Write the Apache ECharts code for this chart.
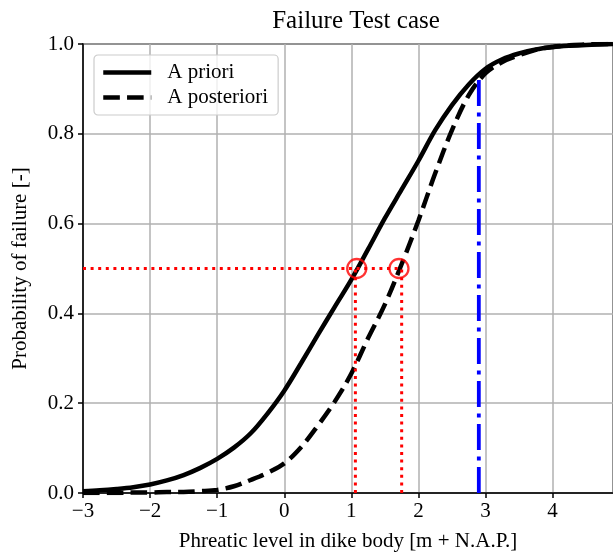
<!DOCTYPE html>
<html>
<head>
<meta charset="utf-8">
<script src="https://cdn.jsdelivr.net/npm/echarts@6/dist/echarts.min.js"></script>
<style>
html,body{margin:0;padding:0;background:#fff;}
#chart{width:613px;height:558px;}
</style>
</head>
<body>
<div id="chart"></div>
<script>
// ---- data ----
var xLevels = [-3, -2.75, -2.5, -2.25, -2, -1.75, -1.5, -1.25, -1, -0.75, -0.5, -0.25, 0, 0.25, 0.5, 0.75, 1, 1.25, 1.5, 1.75, 2, 2.25, 2.5, 2.75, 3, 3.25, 3.5, 3.75, 4, 4.25, 4.5, 4.9];
var aPriori = [0.004, 0.006, 0.009, 0.013, 0.019, 0.028, 0.040, 0.056, 0.076, 0.101, 0.133, 0.177, 0.228, 0.289, 0.352, 0.414, 0.475, 0.543, 0.612, 0.676, 0.740, 0.808, 0.864, 0.910, 0.945, 0.966, 0.979, 0.988, 0.993, 0.996, 0.998, 1.000];
var aPosteriori = [0.000, 0.000, 0.000, 0.001, 0.001, 0.002, 0.002, 0.004, 0.007, 0.015, 0.029, 0.045, 0.066, 0.102, 0.150, 0.203, 0.266, 0.345, 0.420, 0.510, 0.607, 0.712, 0.808, 0.886, 0.935, 0.960, 0.975, 0.987, 0.994, 0.997, 0.999, 1.000];
var seriesNames = ['A priori', 'A posteriori'];
var threshold = 0.5;
var crossPriori = 1.08, crossPosteriori = 1.71;        // circle markers at P = 0.5
var dropPriori = 1.06, dropPosteriori = 1.75;          // vertical dotted drop lines
var hLineStart = -3, hLineEnd = 1.75;                  // horizontal dotted line
var blueX = 2.9, blueTop = 0.93;                       // dash-dot vertical line
var xMin = -3, xMax = 4.9, xStep = 1;
var yMin = 0, yMax = 1, yStep = 0.2;
var titleText = 'Failure Test case';
var xName = 'Phreatic level in dike body [m + N.A.P.]';
var yName = 'Probability of failure [-]';

var FONT = '"Liberation Serif", "Times New Roman", serif';

function zip(xs, ys) { return xs.map(function (x, i) { return [x, ys[i]]; }); }

var chart = echarts.init(document.getElementById('chart'), null, {renderer: 'canvas'});
chart.setOption({
  animation: false,
  backgroundColor: '#ffffff',
  title: {
    text: titleText,
    left: 351, top: 4, textAlign: 'center',
    textStyle: {fontFamily: FONT, fontSize: 25, fontWeight: 'normal', color: '#000'}
  },
  grid: {
    left: 83, right: 0, top: 44, bottom: 65,
    show: true, borderColor: '#000', borderWidth: 1.5, backgroundColor: 'transparent'
  },
  legend: {
    data: seriesNames,
    orient: 'vertical',
    left: 94, top: 55,
    padding: [7, 10, 7, 7],
    itemWidth: 48, itemHeight: 14, itemGap: 4,
    itemStyle: {opacity: 0},
    lineStyle: {width: 4.5},
    backgroundColor: 'rgba(255,255,255,0.8)',
    borderColor: '#cccccc', borderWidth: 1.2, borderRadius: 4,
    textStyle: {fontFamily: FONT, fontSize: 21, color: '#000', padding: [0, 0, 0, 11]}
  },
  xAxis: {
    type: 'value', min: xMin, max: xMax, interval: xStep,
    name: xName, nameLocation: 'middle', nameGap: 38,
    nameTextStyle: {fontFamily: FONT, fontSize: 21, color: '#000'},
    axisLine: {show: true, onZero: false, lineStyle: {color: '#000', width: 1.5}},
    axisTick: {show: true, inside: false, length: 5, lineStyle: {color: '#000', width: 1.5}},
    axisLabel: {
      fontFamily: FONT, fontSize: 21, color: '#000', margin: 8,
      showMaxLabel: false,
      formatter: function (v) { return String(v).replace('-', '\u2212'); }
    },
    splitLine: {show: true, lineStyle: {color: '#b0b0b0', width: 1.5}}
  },
  yAxis: {
    type: 'value', min: yMin, max: yMax, interval: yStep,
    name: yName, nameLocation: 'middle', nameGap: 52,
    nameTextStyle: {fontFamily: FONT, fontSize: 21, color: '#000'},
    axisLine: {show: true, onZero: false, lineStyle: {color: '#000', width: 1.5}},
    axisTick: {show: true, inside: false, length: 5, lineStyle: {color: '#000', width: 1.5}},
    axisLabel: {
      fontFamily: FONT, fontSize: 21, color: '#000', margin: 9,
      formatter: function (v) { return v.toFixed(1); }
    },
    splitLine: {show: true, lineStyle: {color: '#b0b0b0', width: 1.5}}
  },
  series: [
    {
      name: seriesNames[0], type: 'line', data: zip(xLevels, aPriori),
      smooth: 0.35, symbol: 'none', z: 3,
      lineStyle: {color: '#000', width: 4.5, type: 'solid'},
      itemStyle: {color: '#000'}
    },
    {
      name: seriesNames[1], type: 'line', data: zip(xLevels, aPosteriori),
      smooth: 0.35, symbol: 'none', z: 3,
      lineStyle: {color: '#000', width: 4.5, type: [16.6, 7.2], cap: 'butt'},
      itemStyle: {color: '#000'}
    },
    {
      name: 'hline', type: 'line', data: [[hLineStart, threshold], [hLineEnd, threshold]],
      symbol: 'none', z: 4, silent: true,
      lineStyle: {color: '#ff0000', width: 3, type: [3, 4.6], cap: 'butt'}
    },
    {
      name: 'vline1', type: 'line', data: [[dropPriori, 0], [dropPriori, threshold]],
      symbol: 'none', z: 4, silent: true,
      lineStyle: {color: '#ff0000', width: 3, type: [3, 4.6], cap: 'butt'}
    },
    {
      name: 'vline2', type: 'line', data: [[dropPosteriori, 0], [dropPosteriori, threshold]],
      symbol: 'none', z: 4, silent: true,
      lineStyle: {color: '#ff0000', width: 3, type: [3, 4.6], cap: 'butt'}
    },
    {
      name: 'blue', type: 'line', data: [[blueX, 0], [blueX, blueTop]],
      symbol: 'none', z: 4, silent: true,
      lineStyle: {color: '#0000ff', width: 3.8, type: [26, 6.5, 4, 6.5], cap: 'butt'}
    },
    {
      name: 'circles', type: 'scatter', data: [[crossPriori, threshold], [crossPosteriori, threshold]],
      symbol: 'circle', symbolSize: 19, z: 5, silent: true,
      itemStyle: {color: 'rgba(0,0,0,0)', borderColor: '#ff0000', borderWidth: 2.3}
    }
  ]
});
</script>
</body>
</html>
